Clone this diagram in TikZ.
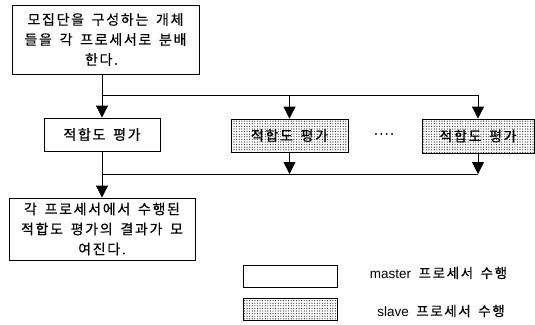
\documentclass[tikz,border=0pt]{standalone}
\usepackage{fontspec}
\setmainfont{Noto Sans CJK KR}[LetterSpace=12, WordSpace=1.6, FakeBold=0.4]
\newfontfamily\latinf{Liberation Sans}
\usetikzlibrary{arrows.meta,patterns.meta}
\tikzset{
  box/.style={draw=black, line width=0.8pt, rectangle, inner sep=0pt, align=center,
    font=\fontsize{14}{20}\selectfont},
  slavebox/.style={box, pattern={Dots[distance=2.6pt, radius=0.6pt]}, pattern color=black!85},
  conn/.style={line width=0.8pt, draw=black},
  arr/.style={conn, -{Triangle[width=12pt,length=12pt]}},
  lbl/.style={inner sep=0pt, font=\fontsize{13.5}{15}\selectfont}
}
\begin{document}
\begin{tikzpicture}[x=1pt,y=-1pt]
\useasboundingbox (0,0) rectangle (535,324);
% boxes
\node[box, minimum width=187pt, minimum height=69pt] (b1) at (105.5,39.5)
  {모집단을 구성하는 개체\\들을 각 프로세서로 분배\\한다.\hspace*{8pt}};
\node[box, minimum width=116pt, minimum height=33pt] (b2) at (102,134.5) {적합도 평가};
\node[slavebox, minimum width=117pt, minimum height=33pt] (b3) at (289.5,135.5) {적합도 평가};
\node[slavebox, minimum width=112pt, minimum height=34pt] (b4) at (478,136) {적합도 평가};
\node[lbl] (dots) at (384,134) {....};
\node[box, minimum width=186pt, minimum height=62pt] (b5) at (102,229)
  {각 프로세서에서 수행된\\적합도 평가의 결과가 모\\여진다.};
% legend
\node[box, minimum width=94pt, minimum height=22pt] (lm) at (290,276) {};
\node[slavebox, minimum width=94pt, minimum height=22pt] (ls) at (290,309) {};
\node[lbl] (tm) at (438.5,273) {{\latinf master} 프로세서 수행};
\node[lbl] (ts) at (441,311) {{\latinf slave} 프로세서 수행};
% connectors
\coordinate (split) at (103,95);
\coordinate (join) at (103,174);
\draw[arr] (b2.north |- b1.south) -- (b2.north);
\draw[arr] (split) -| (b4.north);
\draw[arr] (b3.north |- split) -- (b3.north);
\draw[arr] (b3.south) -- (b3.south |- join);
\draw[arr] (b4.south) -- (b4.south |- join);
\draw[conn] (b4.south |- join) -- (join);
\draw[arr] (b2.south) -- (b2.south |- b5.north);
\end{tikzpicture}
\end{document}
